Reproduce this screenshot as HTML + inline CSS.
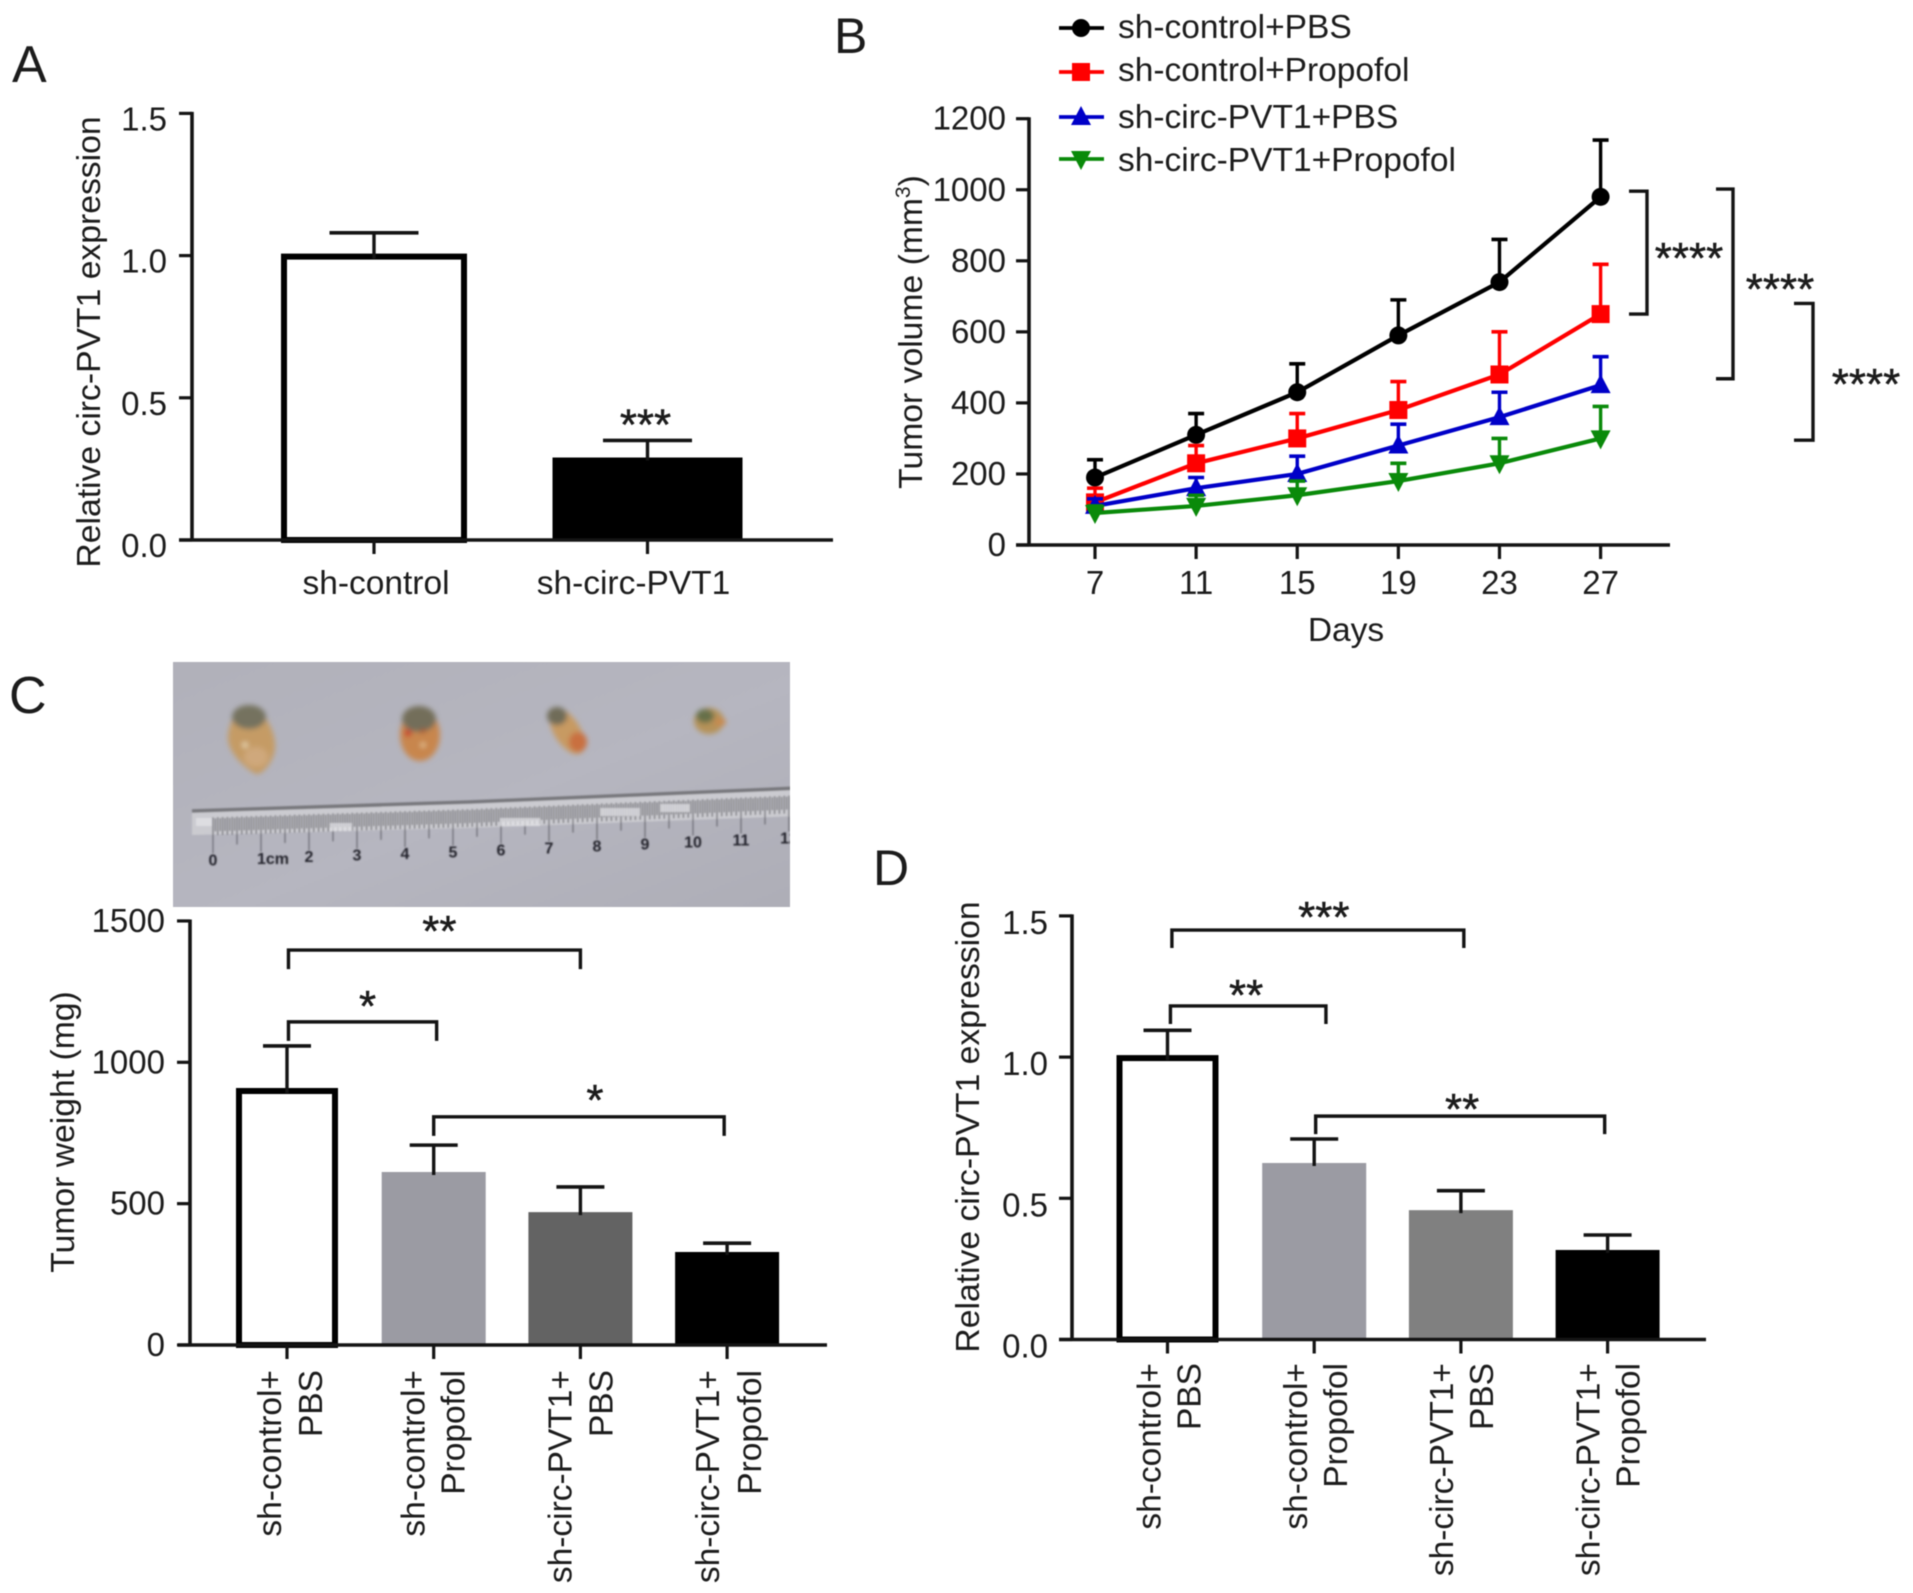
<!DOCTYPE html>
<html lang="en">
<head>
<meta charset="utf-8">
<title>Tumor figure panels</title>
<style>
html,body{margin:0;padding:0;background:#fff}
svg{display:block;filter:blur(.65px)}
text{font-family:"Liberation Sans",Arial,sans-serif;fill:#1c1c1c}
</style>
</head>
<body>
<svg id="fig" xmlns="http://www.w3.org/2000/svg" width="1913" height="1593" viewBox="0 0 1913 1593">
<defs>
<filter id="photoBlur" x="-5%" y="-5%" width="110%" height="110%"><feGaussianBlur stdDeviation=".9"/></filter>
<filter id="softBlur" x="-20%" y="-20%" width="140%" height="140%"><feGaussianBlur stdDeviation="2.6"/></filter>
<clipPath id="photoClip"><rect x="173" y="662" width="617" height="245"/></clipPath>
<linearGradient id="photoBg" x1="0" y1="0" x2="1" y2="1"><stop offset="0" stop-color="#b1b1ba"/><stop offset=".55" stop-color="#b6b6c0"/><stop offset="1" stop-color="#aeaeb7"/></linearGradient>
</defs>
<rect width="1913" height="1593" fill="#fff"/>

<text x="12" y="82" font-size="52">A</text>
<text x="834" y="53" font-size="50">B</text>
<text x="9" y="713" font-size="52">C</text>
<text x="873" y="885" font-size="50">D</text>

<text transform="rotate(-90 100 342)" x="100" y="342" font-size="33.7" text-anchor="middle">Relative circ-PVT1 expression</text>
<text transform="rotate(-90 922 332)" x="922" y="332" font-size="33.7" text-anchor="middle">Tumor volume (mm<tspan font-size="21" dy="-12">3</tspan><tspan dy="12">)</tspan></text>
<text x="1346" y="641" font-size="33.5" text-anchor="middle">Days</text>
<text transform="rotate(-90 74 1132)" x="74" y="1132" font-size="33.7" text-anchor="middle">Tumor weight (mg)</text>
<text transform="rotate(-90 979 1127)" x="979" y="1127" font-size="33.7" text-anchor="middle">Relative circ-PVT1 expression</text>

<g id="photo" clip-path="url(#photoClip)">
  <rect x="173" y="662" width="617" height="245" fill="url(#photoBg)"/>
  <g filter="url(#photoBlur)">
    <path d="M192 810 L470 801 L800 787 L800 816 L470 828 L192 835 Z" fill="#cbcbd0"/>
    <path d="M192 811 L470 802 L800 788" stroke="#77777c" stroke-width="3.5" fill="none"/>
    <path id="rulerTicks" stroke="#66666d" stroke-width="1.4" fill="none" opacity=".8"/>
    <path d="M196 822 H212 M330 827 H352 M500 822 H540 M600 812 H640 M660 808 H690" stroke="#e4e4e8" stroke-width="8" fill="none" opacity=".7"/>
    <g id="rulerNumbers" font-size="16" font-weight="bold"></g>
  </g>
  <g filter="url(#softBlur)">
    <g>
      <path d="M246 706 C262 706 276 730 275 748 C274 762 262 775 256 774 C244 768 228 752 228 738 C228 725 236 709 246 706 Z" fill="#c59b65"/>
      <ellipse cx="249" cy="717" rx="17" ry="12" fill="#75725f"/>
      <ellipse cx="256" cy="757" rx="12" ry="10" fill="#cfa87c"/>
      <circle cx="245" cy="745" r="2.5" fill="#f0e2c0"/>
    </g>
    <g>
      <ellipse cx="420" cy="735" rx="20" ry="26" fill="#c8864e"/>
      <ellipse cx="419" cy="719" rx="17" ry="13" fill="#736e5a"/>
      <circle cx="408" cy="733" r="3.5" fill="#c8352c"/>
      <circle cx="423" cy="731" r="2.5" fill="#a8532c"/>
      <circle cx="423" cy="745" r="2" fill="#f0d9a8"/>
    </g>
    <g>
      <ellipse cx="567" cy="731" rx="13" ry="26" fill="#c79a62" transform="rotate(-32 567 731)"/>
      <ellipse cx="557" cy="716" rx="10" ry="9" fill="#6f6c58"/>
      <ellipse cx="578" cy="742" rx="9" ry="10" fill="#c9703f"/>
    </g>
    <g>
      <ellipse cx="709" cy="721" rx="15" ry="13" fill="#b59258"/>
      <ellipse cx="705" cy="716" rx="9" ry="7" fill="#667048"/>
      <ellipse cx="720" cy="722" rx="6" ry="4" fill="#c78a50"/>
    </g>
  </g>
</g>

<g id="chartA"></g>
<g id="chartB"></g>
<g id="chartC"></g>
<g id="chartD"></g>
</svg>

<script>
/* ---------- Panel A data ---------- */
const aCategories = ['sh-control', 'sh-circ-PVT1'];
const aValues = [1.0, 0.29];
const aErrors = [0.08, 0.06];
const aTicks = [0, 0.5, 1.0, 1.5];
const aTickLabels = ['0.0', '0.5', '1.0', '1.5'];
const aBarColors = ['#fff', '#000'];

/* ---------- Panel B data ---------- */
const bDays = [7, 11, 15, 19, 23, 27];
const bTicks = [0, 200, 400, 600, 800, 1000, 1200];
const bTickLabels = ['0', '200', '400', '600', '800', '1000', '1200'];
const bSeriesNames = ['sh-control+PBS', 'sh-control+Propofol', 'sh-circ-PVT1+PBS', 'sh-circ-PVT1+Propofol'];
const bControlPbs = [190, 310, 430, 590, 740, 980];
const bControlPropofol = [120, 230, 300, 380, 480, 650];
const bCircPbs = [110, 160, 200, 280, 360, 450];
const bCircPropofol = [90, 110, 140, 180, 230, 300];
const bControlPbsErr = [50, 60, 80, 100, 120, 160];
const bControlPropofolErr = [40, 50, 70, 80, 120, 140];
const bCircPbsErr = [20, 30, 50, 60, 70, 80];
const bCircPropofolErr = [20, 30, 40, 50, 70, 90];
const bColors = ['#000', '#f00', '#0000c8', '#0a8a0a'];
const bMarkers = ['circle', 'square', 'up', 'down'];
const bBracketTops = [996, 1002, 680];
const bBracketBottoms = [650, 468, 295];

/* ---------- Panel C data ---------- */
const cLine1 = ['sh-control+', 'sh-control+', 'sh-circ-PVT1+', 'sh-circ-PVT1+'];
const cLine2 = ['PBS', 'Propofol', 'PBS', 'Propofol'];
const cValues = [902, 612, 470, 329];
const cErrors = [156, 95, 89, 31];
const cTicks = [0, 500, 1000, 1500];
const cTickLabels = ['0', '500', '1000', '1500'];
const cBarColors = ['#fff', '#9b9ba3', '#636363', '#000'];
const cBracketFrom = [0.01, 0.01, 1.0];
const cBracketTo = [2.0, 1.02, 2.98];
const cBracketLevels = [1397, 1143, 807];
const cBracketLabels = ['**', '*', '*'];

/* ---------- Panel D data ---------- */
const dLine1 = ['sh-control+', 'sh-control+', 'sh-circ-PVT1+', 'sh-circ-PVT1+'];
const dLine2 = ['PBS', 'Propofol', 'PBS', 'Propofol'];
const dValues = [1.0, 0.625, 0.458, 0.317];
const dErrors = [0.095, 0.085, 0.069, 0.053];
const dTicks = [0, 0.5, 1.0, 1.5];
const dTickLabels = ['0.0', '0.5', '1.0', '1.5'];
const dBarColors = ['#fff', '#9b9ba3', '#808080', '#000'];
const dBracketFrom = [0.03, 0.02, 1.01];
const dBracketTo = [2.02, 1.08, 2.98];
const dBracketLevels = [1.45, 1.181, 0.791];
const dBracketLabels = ['***', '**', '**'];

const NS = 'http://www.w3.org/2000/svg';
const INK = '#141414';

function mk(parent, tag, attrs, text) {
  const el = document.createElementNS(NS, tag);
  for (const k in attrs) el.setAttribute(k, attrs[k]);
  if (text !== undefined) el.textContent = text;
  parent.appendChild(el);
  return el;
}
function seg(parent, x1, y1, x2, y2, w, color) {
  return mk(parent, 'line', {x1: x1, y1: y1, x2: x2, y2: y2, stroke: color || INK, 'stroke-width': w || 3.2});
}

/* Shared y axis: line, ticks and tick labels */
function drawYAxis(root, axisX, yScale, ticks, labels, labelRight, labelDy) {
  const axis = seg(root, axisX, yScale(ticks[ticks.length - 1]) - 1.5, axisX, yScale(0) + 1.5, 3.6);
  
  
  ticks.forEach(function (t, i) {
    const mark = seg(root, axisX - 13, yScale(t), axisX, yScale(t), 3.2);
    
    
    const lab = mk(root, 'text', {x: labelRight, y: yScale(t) + labelDy, 'font-size': 33, 'text-anchor': 'end'}, labels[i]);
    
    
  });
}

/* Shared bars with upper error whiskers */
function drawBars(root, xScale, yScale, values, errors, colors, outlineW, fillW, capHalf) {
  values.forEach(function (v, i) {
    const cx = xScale(i), top = yScale(v), base = yScale(0);
    const outlined = colors[i] === '#fff';
    const bar = mk(root, 'rect', outlined
      ? {x: cx - outlineW / 2 + 3, y: top + 1, width: outlineW - 6, height: base - top - 1, fill: '#fff', stroke: '#000', 'stroke-width': 6}
      : {x: cx - fillW / 2, y: top, width: fillW, height: base - top, fill: colors[i]});
    
    
    const whisker = seg(root, cx, yScale(v + errors[i]), cx, top + 3, 3.4);
    
    
    const cap = seg(root, cx - capHalf, yScale(v + errors[i]), cx + capHalf, yScale(v + errors[i]), 3.6);
    
    
  });
}

function drawStars(root, cx, cy, label) {
  const el = mk(root, 'text', {x: cx, y: cy + 22, 'font-size': 44, 'text-anchor': 'middle', stroke: '#1c1c1c', 'stroke-width': '.5'}, label);
  
  
  return el;
}

function drawBrackets(root, xScale, yScale, from, to, levels, labels, drop, starOffsets, starShift) {
  levels.forEach(function (lv, i) {
    const x1 = xScale(from[i]), x2 = xScale(to[i]), y = yScale(lv);
    const path = mk(root, 'path', {d: 'M' + x1 + ' ' + (y + drop) + 'V' + y + 'H' + x2 + 'V' + (y + drop), fill: 'none', stroke: INK, 'stroke-width': 3.4});
    
    
    drawStars(root, (x1 + x2) / 2 + starShift[i], y - starOffsets[i], labels[i]);
  });
}

function drawXAxis(root, xStart, xEnd, y, xScale, count, tickLen) {
  const axis = seg(root, xStart, y, xEnd, y, 3.6);
  
  
  for (let i = 0; i < count; i++) {
    const mark = seg(root, xScale(i), y, xScale(i), y + tickLen, 3.2);
    
    
  }
}

function drawRotatedLabels(root, xScale, line1, line2, endY, dx1, dx2) {
  line1.forEach(function (txt, i) {
    const x1 = xScale(i) + dx1[i], x2 = xScale(i) + dx2[i];
    const a = mk(root, 'text', {x: x1, y: endY, 'font-size': 33.5, 'text-anchor': 'end', transform: 'rotate(-90 ' + x1 + ' ' + endY + ')'}, txt);
    
    
    const b = mk(root, 'text', {x: x2, y: endY, 'font-size': 33.5, 'text-anchor': 'end', transform: 'rotate(-90 ' + x2 + ' ' + endY + ')'}, line2[i]);
    
    
  });
}

/* ---------- Panel A ---------- */
(function () {
  const root = document.getElementById('chartA');
  const y = function (v) { return 540 - v * 284.4; };
  const x = function (i) { return 374 + i * 273.5; };
  drawBars(root, x, y, aValues, aErrors, aBarColors, 186, 190, 44.5);
  drawYAxis(root, 192, y, aTicks, aTickLabels, 167, 17);
  drawXAxis(root, 179, 833, y(0), x, aCategories.length, 14);
  const offsets = [2, -14];
  aCategories.forEach(function (c, i) {
    const lab = mk(root, 'text', {x: x(i) + offsets[i], y: 594, 'font-size': 33.5, 'text-anchor': 'middle'}, c);
    
    
  });
  drawStars(root, x(1) - 2, y(aValues[1] + aErrors[1]) - 23, '***');
})();

/* ---------- Panel B ---------- */
(function () {
  const root = document.getElementById('chartB');
  const y = function (v) { return 545 - v * 0.35525; };
  const x = function (d) { return 1095 + (d - 7) * 25.28; };
  const xi = function (i) { return x(bDays[i]); };
  const series = [bControlPbs, bControlPropofol, bCircPbs, bCircPropofol];
  const errs = [bControlPbsErr, bControlPropofolErr, bCircPbsErr, bCircPropofolErr];

  function marker(parent, kind, cx, cy, color) {
    if (kind === 'circle') return mk(parent, 'circle', {cx: cx, cy: cy, r: 9, fill: color});
    if (kind === 'square') return mk(parent, 'rect', {x: cx - 9, y: cy - 9, width: 18, height: 18, fill: color});
    if (kind === 'up') return mk(parent, 'polygon', {points: (cx - 10) + ',' + (cy + 8) + ' ' + (cx + 10) + ',' + (cy + 8) + ' ' + cx + ',' + (cy - 11), fill: color});
    return mk(parent, 'polygon', {points: (cx - 10) + ',' + (cy - 8) + ' ' + (cx + 10) + ',' + (cy - 8) + ' ' + cx + ',' + (cy + 11), fill: color});
  }

  drawYAxis(root, 1029, y, bTicks, bTickLabels, 1006, 11);
  drawXAxis(root, 1016, 1670, y(0), xi, bDays.length, 14);
  bDays.forEach(function (d) {
    const lab = mk(root, 'text', {x: x(d), y: 594, 'font-size': 33, 'text-anchor': 'middle'}, String(d));
    
    
  });

  series.forEach(function (vals, s) {
    const color = bColors[s];
    vals.forEach(function (v, i) {
      const top = y(v + errs[s][i]);
      const stem = seg(root, xi(i), top, xi(i), y(v), 3.4, color);
      
      
      const cap = seg(root, xi(i) - 8, top, xi(i) + 8, top, 3.6, color);
      
      
    });
    const pts = vals.map(function (v, i) { return xi(i) + ',' + y(v); }).join(' ');
    const line = mk(root, 'polyline', {points: pts, fill: 'none', stroke: color, 'stroke-width': 4.2});
    
    
    vals.forEach(function (v, i) {
      const m = marker(root, bMarkers[s], xi(i), y(v), color);
      
      
    });
  });

  const legendLineY = [28, 72, 117, 159];
  const legendTextY = [38, 81, 128, 171];
  bSeriesNames.forEach(function (name, s) {
    const ln = seg(root, 1059, legendLineY[s], 1104, legendLineY[s], 3.8, bColors[s]);
    
    
    const mk2 = marker(root, bMarkers[s], 1081, legendLineY[s], bColors[s]);
    
    
    const t = mk(root, 'text', {x: 1118, y: legendTextY[s], 'font-size': 33.5}, name);
    
    
  });

  const bracketX = [1647, 1733, 1813];
  const bracketArm = [18, 17, 19];
  const starX = [1689, 1780, 1866];
  const starY = [251, 282, 377];
  bBracketTops.forEach(function (top, i) {
    const yt = y(top), yb = y(bBracketBottoms[i]), bx = bracketX[i], arm = bracketArm[i];
    const p = mk(root, 'path', {d: 'M' + (bx - arm) + ' ' + yt + 'H' + bx + 'V' + yb + 'H' + (bx - arm), fill: 'none', stroke: INK, 'stroke-width': 3.4});
    
    
    drawStars(root, starX[i], starY[i], '****');
  });
})();

/* ---------- Panel C ---------- */
(function () {
  const root = document.getElementById('chartC');
  const y = function (v) { return 1345 - v * 0.2827; };
  const x = function (i) { return 287 + i * 146.7; };
  drawBars(root, x, y, cValues, cErrors, cBarColors, 102, 104, 24);
  drawYAxis(root, 190, y, cTicks, cTickLabels, 165, 11);
  drawXAxis(root, 178, 827, y(0), x, cValues.length, 14);
  drawRotatedLabels(root, x, cLine1, cLine2, 1370, [-6, -9, -9, -8], [35, 31, 32, 34]);
  drawBrackets(root, x, y, cBracketFrom, cBracketTo, cBracketLevels, cBracketLabels, 19, [26, 23, 24], [5, 5, 16]);
})();

/* ---------- Panel D ---------- */
(function () {
  const root = document.getElementById('chartD');
  const y = function (v) { return 1339.5 - v * 282.4; };
  const x = function (i) { return 1167.5 + i * 146.7; };
  drawBars(root, x, y, dValues, dErrors, dBarColors, 102, 104, 24);
  drawYAxis(root, 1072, y, dTicks, dTickLabels, 1048, 18);
  drawXAxis(root, 1059, 1706, y(0), x, dValues.length, 14);
  drawRotatedLabels(root, x, dLine1, dLine2, 1363, [-7, -7, -8, -8], [33, 33, 32, 32]);
  drawBrackets(root, x, y, dBracketFrom, dBracketTo, dBracketLevels, dBracketLabels, 18, [20, 18, 14], [6, -2, 2]);
})();

/* ---------- Photo details ---------- */
(function () {
  const topAt = function (px) { return px < 470 ? 810 - (px - 192) * 0.0324 : 801 - (px - 470) * 0.0424; };
  let d = '';
  for (let i = 0; i < 122; i++) {
    const px = 213 + i * 4.8;
    const t = topAt(px);
    const major = i % 10 === 0, mid = i % 5 === 0;
    d += 'M' + px + ' ' + (t + 8) + 'V' + (t + (major ? 44 : mid ? 36 : 26));
    d += 'M' + (px + 2.4) + ' ' + (t + 9) + 'V' + (t + 22);
  }
  document.getElementById('rulerTicks').setAttribute('d', d);
  const labels = ['0', '1cm', '2', '3', '4', '5', '6', '7', '8', '9', '10', '11', '12'];
  const nums = document.getElementById('rulerNumbers');
  labels.forEach(function (txt, i) {
    const px = 213 + i * 48;
    const t = mk(nums, 'text', {x: i === 1 ? px + 12 : px, y: topAt(px) + 56, 'text-anchor': 'middle', style: 'fill:#22222a'}, txt);
    
    
  });
})();
</script>
</body>
</html>
